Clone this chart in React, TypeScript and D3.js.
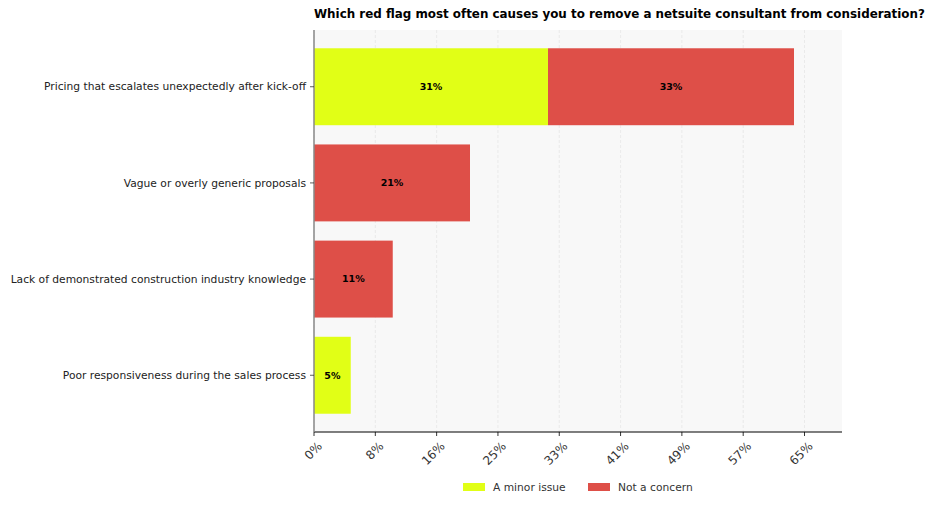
import * as d3 from "d3"
import { useEffect, useRef } from "react"

const categories = [
  "Pricing that escalates unexpectedly after kick-off",
  "Vague or overly generic proposals",
  "Lack of demonstrated construction industry knowledge",
  "Poor responsiveness during the sales process",
]
const minorIssue = [31.2, 0, 0, 4.9]
const notConcern = [32.8, 20.8, 10.5, 0]
const tickValues = [0, 8.175, 16.35, 24.525, 32.7, 40.875, 49.05, 57.225, 65.4]
const tickLabels = ["0%", "8%", "16%", "25%", "33%", "41%", "49%", "57%", "65%"]
const seriesNames = ["A minor issue", "Not a concern"]
const colors = ["#e1ff16", "#de4f48"]

const W = 936
const H = 506
const FONT = "DejaVu Sans, sans-serif"

const App = () => {
  const svgRef = useRef(null)

  useEffect(() => {
    document.body.style.margin = "0"
    const svg = d3.select(svgRef.current)
    svg.selectAll("*").remove()

    const left = 314, right = 842, top = 30, bottom = 432
    const totalMax = d3.max(categories.map((_, i) => minorIssue[i] + notConcern[i]))
    const x = d3.scaleLinear().domain([0, totalMax * 1.1]).range([left, right])
    const y = d3.scaleLinear().domain([-0.59, categories.length - 1 + 0.59]).range([top, bottom])
    const barH = y(0.4) - y(-0.4)

    // plot background
    svg.append("rect")
      .attr("x", left).attr("y", top)
      .attr("width", right - left).attr("height", bottom - top)
      .attr("fill", "#f8f8f8")

    // grid
    svg.append("g")
      .selectAll("line")
      .data(tickValues)
      .join("line")
      .attr("x1", d => x(d)).attr("x2", d => x(d))
      .attr("y1", top).attr("y2", bottom)
      .attr("stroke", "#e4e4e4")
      .attr("stroke-width", 0.7)
      .attr("stroke-dasharray", "3,2")

    // bars
    const series = [minorIssue, notConcern]
    series.forEach((vals, s) => {
      const g = svg.append("g")
      vals.forEach((v, i) => {
        if (v <= 0) return
        const start = s === 0 ? 0 : minorIssue[i]
        g.append("rect")
          .attr("x", x(start))
          .attr("y", y(i) - barH / 2)
          .attr("width", x(start + v) - x(start))
          .attr("height", barH)
          .attr("fill", colors[s])
        g.append("text")
          .attr("x", (x(start) + x(start + v)) / 2)
          .attr("y", y(i))
          .attr("dy", "0.35em")
          .attr("text-anchor", "middle")
          .attr("font-family", FONT)
          .attr("font-size", 9.5)
          .attr("font-weight", "bold")
          .attr("fill", "#000")
          .text(`${Math.round(v)}%`)
      })
    })

    // x axis
    const xAxis = svg.append("g")
    xAxis.append("line")
      .attr("x1", left).attr("x2", right)
      .attr("y1", bottom).attr("y2", bottom)
      .attr("stroke", "#000").attr("stroke-width", 1)
    const xt = xAxis.selectAll("g.tick")
      .data(tickValues)
      .join("g")
      .attr("transform", d => `translate(${x(d)},${bottom})`)
    xt.append("line").attr("y2", 4).attr("stroke", "#000").attr("stroke-width", 0.8)
    xt.append("text")
      .attr("transform", "translate(3,9) rotate(-45)")
      .attr("text-anchor", "end")
      .attr("dy", "0.7em")
      .attr("font-family", FONT)
      .attr("font-size", 12)
      .attr("fill", "#333")
      .text((_, i) => tickLabels[i])

    // y axis
    const yAxis = svg.append("g")
    yAxis.append("line")
      .attr("x1", left).attr("x2", left)
      .attr("y1", top).attr("y2", bottom)
      .attr("stroke", "#888").attr("stroke-width", 1.5)
    const yt = yAxis.selectAll("g.tick")
      .data(categories)
      .join("g")
      .attr("transform", (_, i) => `translate(${left},${y(i)})`)
    yt.append("line").attr("x2", -4).attr("stroke", "#333").attr("stroke-width", 0.8)
    yt.append("text")
      .attr("x", -8)
      .attr("dy", "0.35em")
      .attr("text-anchor", "end")
      .attr("font-family", FONT)
      .attr("font-size", 10.7)
      .attr("fill", "#222")
      .text(d => d)

    // title
    svg.append("text")
      .attr("x", left)
      .attr("y", 18)
      .attr("font-family", FONT)
      .attr("font-size", 11.9)
      .attr("font-weight", "bold")
      .attr("fill", "#000")
      .text("Which red flag most often causes you to remove a netsuite consultant from consideration?")

    // legend
    const legend = svg.append("g").attr("transform", "translate(463,487)")
    const lx = [0, 125]
    seriesNames.forEach((name, s) => {
      legend.append("rect")
        .attr("x", lx[s]).attr("y", -4)
        .attr("width", 22).attr("height", 8)
        .attr("fill", colors[s])
      legend.append("text")
        .attr("x", lx[s] + 30)
        .attr("y", 0)
        .attr("dy", "0.35em")
        .attr("font-family", FONT)
        .attr("font-size", 10.7)
        .attr("fill", "#333")
        .text(name)
    })
  }, [])

  return <svg ref={svgRef} width={W} height={H} style={{ display: "block", background: "#fff" }}></svg>
}

export default App
